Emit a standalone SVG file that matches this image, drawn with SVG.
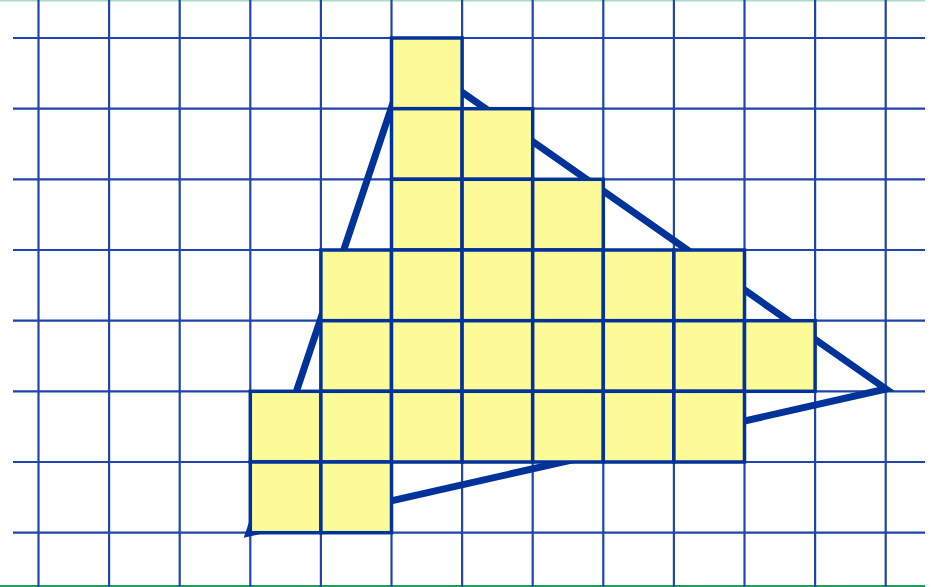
<svg xmlns="http://www.w3.org/2000/svg" width="937" height="587" viewBox="0 0 937 587">
<style>
.grid{stroke:#1f45ab;stroke-width:2.2;fill:none}
.tri{stroke:#003399;stroke-width:7;fill:none;stroke-linejoin:miter}
.cell{fill:#fdfb98;stroke:#003399;stroke-width:3.5}
</style>
<rect width="937" height="587" fill="#ffffff"/>
<g id="border">
<line x1="0" y1="0.5" x2="925" y2="0.5" stroke="#a9dcc2" stroke-width="2"/>
<line x1="0" y1="586" x2="925" y2="586" stroke="#2a9a5c" stroke-width="2"/>
</g>
<g id="grid" class="grid">
<line x1="38.5" y1="0" x2="38.5" y2="587"/>
<line x1="109.1" y1="0" x2="109.1" y2="587"/>
<line x1="179.7" y1="0" x2="179.7" y2="587"/>
<line x1="250.3" y1="0" x2="250.3" y2="587"/>
<line x1="320.9" y1="0" x2="320.9" y2="587"/>
<line x1="391.5" y1="0" x2="391.5" y2="587"/>
<line x1="462.1" y1="0" x2="462.1" y2="587"/>
<line x1="532.7" y1="0" x2="532.7" y2="587"/>
<line x1="603.3" y1="0" x2="603.3" y2="587"/>
<line x1="673.9" y1="0" x2="673.9" y2="587"/>
<line x1="744.5" y1="0" x2="744.5" y2="587"/>
<line x1="815.1" y1="0" x2="815.1" y2="587"/>
<line x1="885.7" y1="0" x2="885.7" y2="587"/>
<line x1="13" y1="38" x2="925" y2="38"/>
<line x1="13" y1="108.7" x2="925" y2="108.7"/>
<line x1="13" y1="179.3" x2="925" y2="179.3"/>
<line x1="13" y1="250" x2="925" y2="250"/>
<line x1="13" y1="320.7" x2="925" y2="320.7"/>
<line x1="13" y1="391.3" x2="925" y2="391.3"/>
<line x1="13" y1="462" x2="925" y2="462"/>
<line x1="13" y1="532.7" x2="925" y2="532.7"/>
</g>
<g id="connectors">
<polygon id="triangle" class="tri" points="249,533 409,55 886,389"/>
</g>
<g id="cells">
<g id="row0"><rect class="cell" x="391.5" y="38" width="70.6" height="70.7"/></g>
<g id="row1"><rect class="cell" x="391.5" y="108.7" width="70.6" height="70.6"/><rect class="cell" x="462.1" y="108.7" width="70.6" height="70.6"/></g>
<g id="row2"><rect class="cell" x="391.5" y="179.3" width="70.6" height="70.7"/><rect class="cell" x="462.1" y="179.3" width="70.6" height="70.7"/><rect class="cell" x="532.7" y="179.3" width="70.6" height="70.7"/></g>
<g id="row3"><rect class="cell" x="320.9" y="250" width="70.6" height="70.7"/><rect class="cell" x="391.5" y="250" width="70.6" height="70.7"/><rect class="cell" x="462.1" y="250" width="70.6" height="70.7"/><rect class="cell" x="532.7" y="250" width="70.6" height="70.7"/><rect class="cell" x="603.3" y="250" width="70.6" height="70.7"/><rect class="cell" x="673.9" y="250" width="70.6" height="70.7"/></g>
<g id="row4"><rect class="cell" x="320.9" y="320.7" width="70.6" height="70.6"/><rect class="cell" x="391.5" y="320.7" width="70.6" height="70.6"/><rect class="cell" x="462.1" y="320.7" width="70.6" height="70.6"/><rect class="cell" x="532.7" y="320.7" width="70.6" height="70.6"/><rect class="cell" x="603.3" y="320.7" width="70.6" height="70.6"/><rect class="cell" x="673.9" y="320.7" width="70.6" height="70.6"/><rect class="cell" x="744.5" y="320.7" width="70.6" height="70.6"/></g>
<g id="row5"><rect class="cell" x="250.3" y="391.3" width="70.6" height="70.7"/><rect class="cell" x="320.9" y="391.3" width="70.6" height="70.7"/><rect class="cell" x="391.5" y="391.3" width="70.6" height="70.7"/><rect class="cell" x="462.1" y="391.3" width="70.6" height="70.7"/><rect class="cell" x="532.7" y="391.3" width="70.6" height="70.7"/><rect class="cell" x="603.3" y="391.3" width="70.6" height="70.7"/><rect class="cell" x="673.9" y="391.3" width="70.6" height="70.7"/></g>
<g id="row6"><rect class="cell" x="250.3" y="462" width="70.6" height="70.7"/><rect class="cell" x="320.9" y="462" width="70.6" height="70.7"/></g>
</g>
</svg>
